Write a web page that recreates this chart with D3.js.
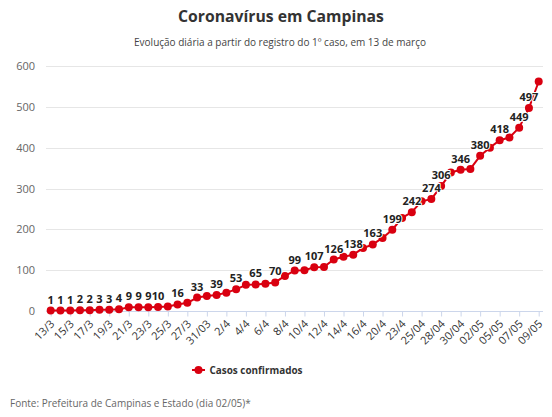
<!DOCTYPE html>
<html>
<head>
<meta charset="utf-8">
<script src="https://cdn.jsdelivr.net/npm/d3@7/dist/d3.min.js"></script>
<style>
  html, body { margin: 0; padding: 0; background: #fff; }
  svg { display: block; font-family: "Open Sans", "DejaVu Sans", sans-serif; }
</style>
</head>
<body>
<svg id="chart" width="552" height="417"></svg>
<script>
// ---- data ----
const title = "Coronavírus em Campinas";
const subtitle = "Evolução diária a partir do registro do 1º caso, em 13 de março";
const seriesName = "Casos confirmados";
const source = "Fonte: Prefeitura de Campinas e Estado (dia 02/05)*";

const cases = [1, 1, 1, 2, 2, 3, 3, 4, 9, 9, 9, 10, 11, 16, 20, 33, 37, 39, 45, 53,
  64, 65, 67, 70, 86, 99, 100, 107, 108, 126, 133, 138, 154, 163, 179, 199, 228, 242, 269, 274,
  306, 339, 346, 348, 380, 400, 418, 425, 449, 497, 562];

// tick labels shown every second point
const tickLabels = ["13/3", "15/3", "17/3", "19/3", "21/3", "23/3", "25/3", "27/3", "31/03", "2/4",
  "4/4", "6/4", "8/4", "10/4", "12/4", "14/4", "16/4", "20/4", "23/4", "25/04",
  "28/04", "30/04", "02/05", "05/05", "07/05", "09/05"];

// points whose value label is displayed
const labeledPoints = [0, 1, 2, 3, 4, 5, 6, 7, 8, 9, 10, 11, 13, 15, 17, 19, 21, 23, 25, 27,
  29, 31, 33, 35, 37, 39, 40, 42, 44, 46, 48, 49];

const yTicks = [0, 100, 200, 300, 400, 500, 600];

// ---- layout ----
const svg = d3.select("#chart");
const plotLeft = 46, plotRight = 543;
const red = "#d90010";

const x = d3.scaleLinear().domain([0, cases.length - 1]).range([50.7, 538.7]);
const y = d3.scaleLinear().domain([0, 600]).range([311, 66]);

function fitText(sel, target, base) {
  const w = sel.node().getComputedTextLength();
  sel.attr("font-size", (base * target / w).toFixed(2));
}

// title & subtitle
const t1 = svg.append("text").attr("x", 281).attr("y", 21.5).attr("text-anchor", "middle")
  .attr("font-size", 16).attr("font-weight", 700).attr("fill", "#333").text(title);
fitText(t1, 206, 16);
const t2 = svg.append("text").attr("x", 280).attr("y", 46).attr("text-anchor", "middle")
  .attr("font-size", 10.5).attr("fill", "#444").text(subtitle);
fitText(t2, 292, 10.5);

// grid
const grid = svg.append("g");
grid.selectAll("line").data(yTicks.filter(d => d > 0)).join("line")
  .attr("x1", plotLeft).attr("x2", plotRight)
  .attr("y1", d => Math.round(y(d)) + 0.5).attr("y2", d => Math.round(y(d)) + 0.5)
  .attr("stroke", "#e6e6e6").attr("stroke-width", 1);

// y axis labels
const yAxis = d3.axisLeft(y).tickValues(yTicks).tickSize(0).tickPadding(0);
const yg = svg.append("g").attr("transform", `translate(35,0)`).call(yAxis);
yg.select(".domain").remove();
yg.selectAll("text").attr("font-size", 11).attr("fill", "#666")
  .attr("font-family", '"Open Sans", sans-serif');

// x axis
const tickIdx = tickLabels.map((d, i) => i * 2);
const xAxis = d3.axisBottom(x).tickValues(tickIdx)
  .tickFormat((d) => tickLabels[d / 2]).tickSize(5).tickSizeOuter(0);
const xg = svg.append("g").attr("transform", `translate(0,${Math.round(y(0)) + 0.5})`).call(xAxis);
xg.select(".domain").attr("d", `M${plotLeft},0H${plotRight}`).attr("stroke", "#ccd6eb");
xg.selectAll(".tick line").attr("stroke", "#ccd6eb");
xg.selectAll(".tick text")
  .attr("font-size", 11).attr("fill", "#333")
  .attr("font-family", '"Open Sans", sans-serif')
  .attr("text-anchor", "end")
  .attr("dy", null).attr("y", null)
  .attr("transform", "translate(4,13) rotate(-45)");

// line
const line = d3.line().x((d, i) => x(i)).y(d => y(d));
svg.append("path").datum(cases).attr("d", line)
  .attr("fill", "none").attr("stroke", red).attr("stroke-width", 2)
  .attr("stroke-linejoin", "round");

svg.append("g").selectAll("circle").data(cases).join("circle")
  .attr("cx", (d, i) => x(i)).attr("cy", d => y(d)).attr("r", 4).attr("fill", red);

// data labels
svg.append("g").selectAll("text").data(labeledPoints).join("text")
  .attr("x", i => x(i)).attr("y", i => y(cases[i]) - 7)
  .attr("text-anchor", "middle").attr("font-size", 11).attr("font-weight", 700)
  .attr("fill", "#222").attr("stroke", "#fff").attr("stroke-width", 2)
  .attr("stroke-linejoin", "round").attr("paint-order", "stroke")
  .text(i => cases[i]);

// legend
const lg = svg.append("g").attr("transform", "translate(192,370)");
lg.append("line").attr("x1", 0).attr("x2", 13).attr("y1", 0).attr("y2", 0)
  .attr("stroke", red).attr("stroke-width", 2);
lg.append("circle").attr("cx", 6.5).attr("cy", 0).attr("r", 4).attr("fill", red);
const lt = lg.append("text").attr("x", 17.5).attr("y", 4).attr("font-size", 11.5).attr("font-weight", 700)
  .attr("fill", "#333").text(seriesName);
fitText(lt, 93, 11.5);

// source
const st = svg.append("text").attr("x", 10).attr("y", 407).attr("font-size", 11.5).attr("fill", "#666")
  .text(source);
fitText(st, 241, 11.5);
</script>
</body>
</html>
